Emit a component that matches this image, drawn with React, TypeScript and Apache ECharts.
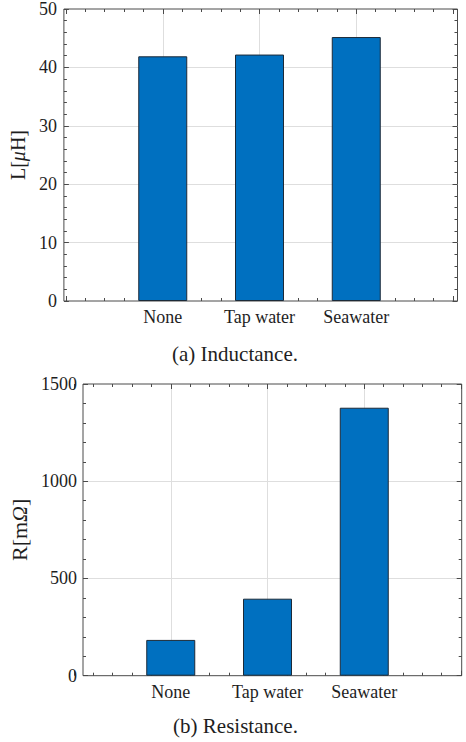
import React, { useEffect, useRef } from "react";
import * as echarts from "echarts";

const categories = ["None", "Tap water", "Seawater"];
const categoryPositions = [1, 2, 3];
const inductanceValues = [41.9, 42.2, 45.2];
const resistanceValues = [184, 396, 1378];
const inductanceTicks = { min: 0, max: 50, interval: 10 };
const resistanceTicks = { min: 0, max: 1500, interval: 500 };
const captions = ["(a) Inductance.", "(b) Resistance."];

const FONT = "serif";
const AXIS_COLOR = "#4a4a4a";
const GRID_COLOR = "#dedede";
const TEXT_COLOR = "#1e1e1e";
const BAR_COLOR = "#0070c0";

export default function App() {
  const ref = useRef<HTMLDivElement>(null);

  useEffect(() => {
    if (!ref.current) return;
    const chart = echarts.init(ref.current, undefined, { renderer: "svg" });

    const frameGrid = (left: number, right: number, top: number, height: number) => ({
      left,
      right,
      top,
      height,
      show: true,
      borderColor: AXIS_COLOR,
      borderWidth: 1,
      backgroundColor: "transparent",
      containLabel: false,
    });
    const dataGrid = (left: number, right: number, top: number, height: number) => ({
      left,
      right,
      top,
      height,
      show: false,
      containLabel: false,
    });

    const hiddenX = (gridIndex: number) => ({
      type: "value",
      gridIndex,
      show: false,
      min: 0,
      max: 1,
    });

    const dataX = (gridIndex: number, position: "bottom" | "top") => ({
      type: "value",
      gridIndex,
      position,
      min: 0,
      max: 4,
      interval: 1,
      axisLine: { show: false },
      axisTick: { show: true, inside: true, length: 5, lineStyle: { color: AXIS_COLOR } },
      minorTick: { show: true, splitNumber: 5, length: 3, lineStyle: { color: AXIS_COLOR } },
      axisLabel:
        position === "bottom"
          ? {
              show: true,
              margin: 7,
              fontFamily: FONT,
              fontSize: 18,
              color: TEXT_COLOR,
              formatter: (v: number) => {
                const i = categoryPositions.indexOf(v);
                return i >= 0 ? categories[i] : "";
              },
            }
          : { show: false },
      splitLine:
        position === "bottom"
          ? { show: true, showMinLine: false, showMaxLine: false, lineStyle: { color: GRID_COLOR, width: 1 } }
          : { show: false },
      minorSplitLine: { show: false },
    });

    const frameY = (
      gridIndex: number,
      position: "left" | "right",
      t: { min: number; max: number; interval: number },
      name: string,
      nameGap: number,
      labelMargin: number,
      nameSize: number
    ) => ({
      type: "value",
      gridIndex,
      position,
      min: t.min,
      max: t.max,
      interval: t.interval,
      axisLine: { show: false },
      axisTick: { show: true, inside: true, length: 5, lineStyle: { color: AXIS_COLOR } },
      minorTick: { show: true, splitNumber: 5, length: 3, lineStyle: { color: AXIS_COLOR } },
      axisLabel:
        position === "left"
          ? {
              show: true,
              margin: labelMargin,
              fontFamily: FONT,
              fontSize: 18,
              color: TEXT_COLOR,
              formatter: (v: number) => String(v),
            }
          : { show: false },
      splitLine:
        position === "left"
          ? { show: true, showMinLine: false, showMaxLine: false, lineStyle: { color: GRID_COLOR, width: 1 } }
          : { show: false },
      name: position === "left" ? name : "",
      nameLocation: "middle",
      nameGap,
      nameRotate: 90,
      nameTextStyle: {
        fontFamily: FONT,
        fontSize: nameSize,
        color: TEXT_COLOR,
        rich: {
          i: { fontFamily: FONT, fontSize: nameSize, fontStyle: "italic", color: TEXT_COLOR },
        },
      },
    });

    const hiddenY = (gridIndex: number, t: { min: number; max: number }) => ({
      type: "value",
      gridIndex,
      show: false,
      min: t.min,
      max: t.max,
    });

    const barSeries = (xAxisIndex: number, yAxisIndex: number, values: number[]) => ({
      type: "bar",
      xAxisIndex,
      yAxisIndex,
      barWidth: 49,
      data: values.map((v, i) => [categoryPositions[i], v]),
      itemStyle: { color: BAR_COLOR, borderColor: "#1c2a38", borderWidth: 1 },
      z: 3,
    });

    const caption = (text: string, x: number, y: number) => ({
      type: "text",
      x,
      y,
      style: {
        text,
        fontFamily: FONT,
        fontSize: 21,
        fill: TEXT_COLOR,
        textAlign: "center",
        textVerticalAlign: "middle",
      },
    });

    chart.setOption({
      animation: false,
      backgroundColor: "#ffffff",
      textStyle: { fontFamily: FONT },
      grid: [
        frameGrid(62, 466 - 457.5, 9, 292),
        dataGrid(66, 466 - 453, 9, 292),
        frameGrid(69.5, 466 - 461.7, 384, 291.7),
        dataGrid(74, 466 - 461, 384, 291.7),
      ],
      xAxis: [
        hiddenX(0),
        dataX(1, "bottom"),
        dataX(1, "top"),
        hiddenX(2),
        dataX(3, "bottom"),
        dataX(3, "top"),
      ],
      yAxis: [
        frameY(0, "left", inductanceTicks, "L[{i|μ}H]", 24, 7, 20),
        frameY(0, "right", inductanceTicks, "", 0, 0, 20),
        hiddenY(1, inductanceTicks),
        frameY(2, "left", resistanceTicks, "R[m{i|Ω}]", 53, 6, 22),
        frameY(2, "right", resistanceTicks, "", 0, 0, 22),
        hiddenY(3, resistanceTicks),
      ],
      series: [barSeries(1, 2, inductanceValues), barSeries(4, 5, resistanceValues)],
      graphic: [caption(captions[0], 235, 354), caption(captions[1], 235.5, 726)],
    });

    return () => {
      chart.dispose();
    };
  }, []);

  return (
    <div
      ref={ref}
      style={{ position: "fixed", left: 0, top: 0, width: 466, height: 742, background: "#fff" }}
    />
  );
}
